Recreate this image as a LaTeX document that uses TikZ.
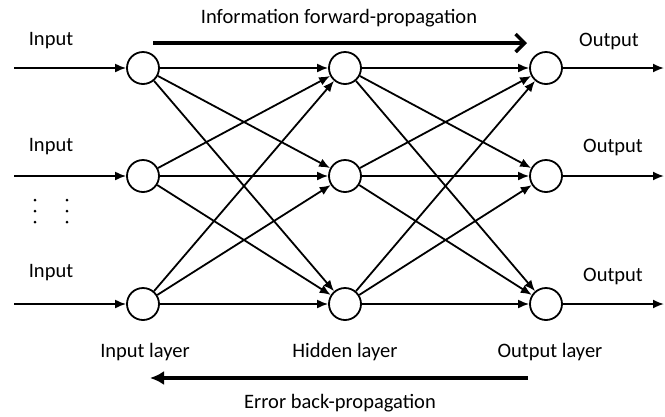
\documentclass[tikz,border=0pt]{standalone}
\usepackage{fontspec}
\setmainfont{Carlito}
\usetikzlibrary{arrows.meta}

\begin{document}
\begin{tikzpicture}[
    x=1pt, y=-1pt,
    neuron/.style={draw, circle, line width=1.8pt, minimum size=32pt, inner sep=0pt},
    conn/.style={line width=1.8pt, -{Latex[length=11pt,width=9pt]}},
    flow line/.style={line width=4.5pt},
    every node/.style={color=black, font=\fontsize{20.5}{24}\selectfont}
    ]
    \useasboundingbox (0,0) rectangle (665,416);
    % Neurons
    \foreach \i/\y in {1/68, 2/176, 3/304} {
        \node[neuron] (in\i) at (143,\y) {};
        \node[neuron] (hid\i) at (345,\y) {};
        \node[neuron] (out\i) at (546,\y) {};
        \coordinate (src\i) at (14,\y);
        \coordinate (dst\i) at (664,\y);
    }
    % Inputs and outputs
    \foreach \i in {1,2,3} {
        \draw[conn] (src\i) -- (in\i);
        \draw[conn] (out\i) -- (dst\i);
    }
    % Weights
    \foreach \i in {1,2,3} {
        \foreach \j in {1,2,3} {
            \draw[conn] (in\i) -- (hid\j);
            \draw[conn] (hid\i) -- (out\j);
        }
    }
    % Dots between the inputs
    \foreach \x in {35,67} {
        \foreach \y in {200,211,222} {
            \fill (\x,\y) circle (1.5);
        }
    }
    % Labels
    \node (lin1) at (51,41) {Input};
    \node (lin2) at (51,147) {Input};
    \node (lin3) at (51,273) {Input};
    \node (lout1) at (609,41) {Output};
    \node (lout2) at (613,147) {Output};
    \node (lout3) at (613,276) {Output};
    \node (linlayer) at (145,352) {Input layer};
    \node (lhidlayer) at (345,352) {Hidden layer};
    \node (loutlayer) at (550,352) {Output layer};
    % Propagation
    \node (fwdtext) at (339,18) {Information forward-propagation};
    \coordinate (fwdstart) at (153,43);
    \coordinate (fwdend) at (527,43);
    \draw[flow line, -{Straight Barb[length=9pt,width=18pt,line width=3.5pt]}] (fwdstart) -- (fwdend);
    \coordinate (backstart) at (528,378);
    \coordinate (backend) at (150,378);
    \draw[flow line, -{Latex[length=14pt,width=14pt]}] (backstart) -- (backend);
    \node (backtext) at (340,403) {Error back-propagation};
\end{tikzpicture}
\end{document}
